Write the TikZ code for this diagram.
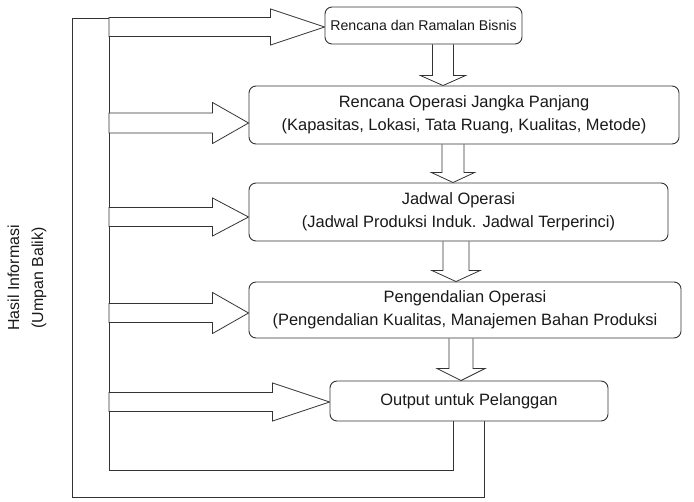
\documentclass[tikz,border=0pt]{standalone}
\usepackage{fontspec}
\setmainfont{Liberation Sans}
\usetikzlibrary{calc,backgrounds}

% hollow block arrow pointing down from the bottom of #1 to the top of #2
% #3 centre x, #4 shaft half width, #5 head half width, #6 head length (all bp)
\newcommand\blockdown[6]{%
  \path[hollow] let \p1=(#1.south), \p2=(#2.north) in
    (#3bp-#4bp,\y1) -- (#3bp-#4bp,\y2+#6bp) -- (#3bp-#5bp,\y2+#6bp) --
    (#3bp,\y2) -- (#3bp+#5bp,\y2+#6bp) -- (#3bp+#4bp,\y2+#6bp) -- (#3bp+#4bp,\y1);}

% hollow block arrow pointing right from the rail at x=#3 to the west side of #1
% #2 tip offset below the centre, #4 shaft half width, #5 head half width, #6 head length
\newcommand\blockright[6]{%
  \path[hollow] let \p1=($(#1.west)+(0,#2)$) in
    (#3bp,\y1+#4bp) -- (\x1-#6bp,\y1+#4bp) -- (\x1-#6bp,\y1+#5bp) -- (\p1) --
    (\x1-#6bp,\y1-#5bp) -- (\x1-#6bp,\y1-#4bp) -- (#3bp,\y1-#4bp) -- cycle;}

\begin{document}
\begin{tikzpicture}[x=1bp,y=-1bp,
  box/.style={draw=black!80, line width=0.9bp, rounded corners=7bp, fill=white,
    align=center, inner sep=0pt, text=black!90,
    font=\fontsize{16.5}{23}\selectfont},
  link/.style={draw=black!80, line width=0.8bp},
  hollow/.style={draw=black!80, line width=0.8bp, fill=white, line join=miter},
  label/.style={align=center, rotate=90, text=black!90,
    font=\fontsize{16}{24}\selectfont}]
\useasboundingbox (0,0) rectangle (694,502);

% process boxes
\node[box, minimum width=197bp, minimum height=37bp,
  font=\fontsize{14.2}{17}\selectfont] (plan) at (423.5,25.5)
  {Rencana dan Ramalan Bisnis};
\node[box, minimum width=430bp, minimum height=58bp] (long) at (464,115)
  {Rencana Operasi Jangka Panjang\\(Kapasitas, Lokasi, Tata Ruang, Kualitas, Metode)};
\node[box, minimum width=419bp, minimum height=58bp] (sched) at (458.5,212)
  {Jadwal Operasi\\(Jadwal Produksi Induk. Jadwal Terperinci)};
\node[box, minimum width=432bp, minimum height=56bp] (ctrl) at (465,310)
  {Pengendalian Operasi\\(Pengendalian Kualitas, Manajemen Bahan Produksi};
\node[box, minimum width=278bp, minimum height=40bp] (out) at (469,401)
  {Output untuk Pelanggan};

% feedback label
\node[label] (fb) at (27,278) {Hasil Informasi\\(Umpan Balik)};

% feedback rails
\coordinate (railI) at (109,18);
\coordinate (railO) at (72,18);
\coordinate (fbI) at (453,470);
\coordinate (fbO) at (484,497);

\begin{scope}[on background layer]
  \draw[link] (out.south -| fbI) -- (fbI) -| (railI);
  \draw[link] (out.south -| fbO) -- (fbO) -| (railO) -- (railI);

  % flow between the boxes
  \blockdown{plan}{long}{443}{10.5}{22.5}{10}
  \blockdown{long}{sched}{453}{11}{21.5}{10}
  \blockdown{sched}{ctrl}{456}{13}{24}{11}
  \blockdown{ctrl}{out}{461}{12}{24}{12}

  % information fed back into every stage
  \blockright{plan}{1.5}{109}{9.5}{18}{54}
  \blockright{long}{8}{109}{10}{20.5}{36}
  \blockright{sched}{5}{109}{9.5}{19}{36}
  \blockright{ctrl}{3}{109}{9.5}{20.5}{36}
  \blockright{out}{1}{109}{9.5}{19}{57}
\end{scope}
\end{tikzpicture}
\end{document}
